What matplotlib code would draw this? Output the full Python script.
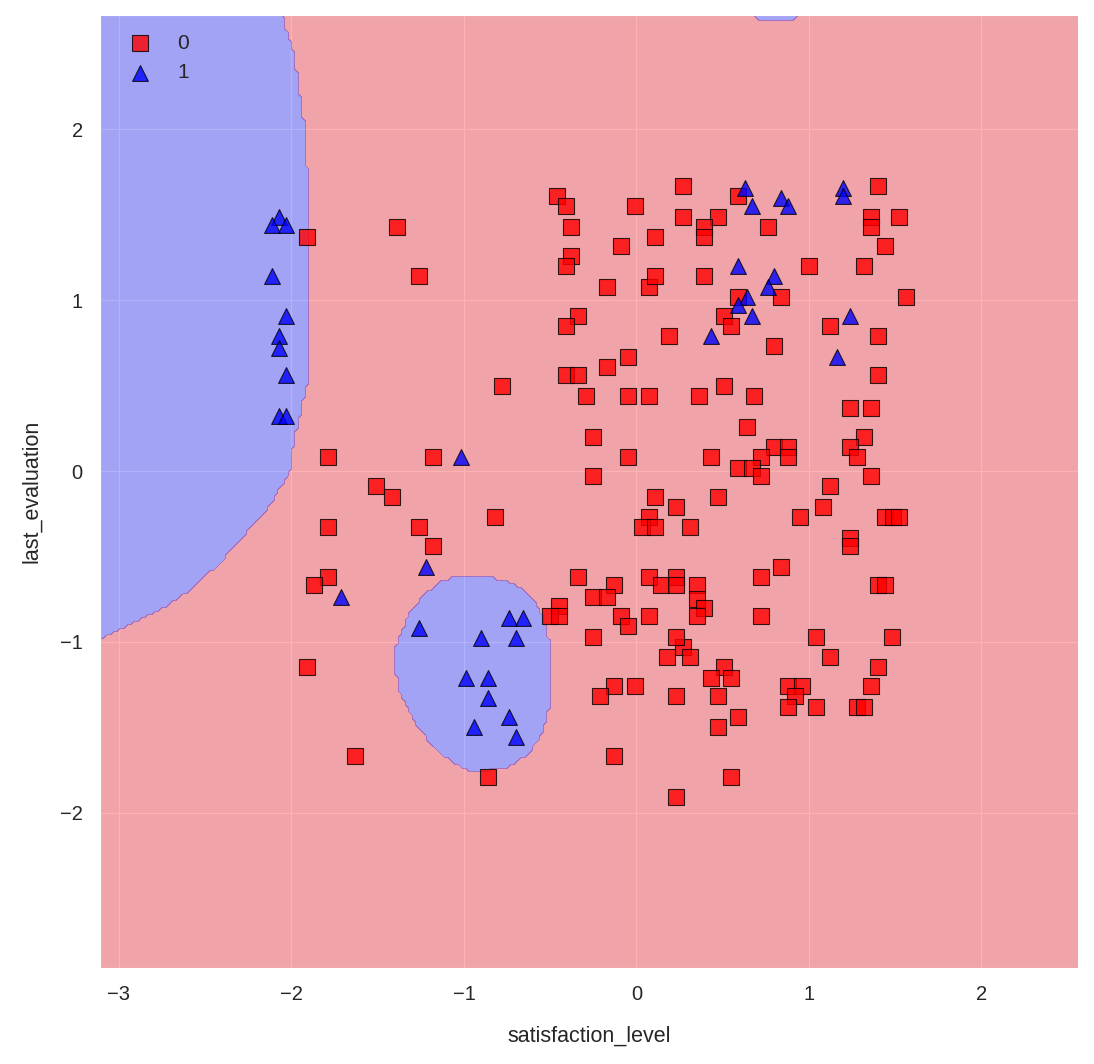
import numpy as np
import matplotlib
matplotlib.use("Agg")
import matplotlib.pyplot as plt
from matplotlib.path import Path
import seaborn as sns

# class 0 samples (standardized satisfaction_level, last_evaluation)
x0 = [-1.91, -1.39, -1.26, -1.79, -1.18, -1.51, -1.42, -1.79, -1.26, -1.18,
      -1.79, -1.87, -1.91, -1.63, -0.86, -0.46, -0.41, -0.38, -0.01, 0.27,
      0.27, 0.11, -0.09, -0.38, -0.41, -0.17, 0.07, 0.11, -0.34, -0.41,
      0.19, -0.05, -0.17, -0.41, -0.34, -0.78, -0.29, -0.05, 0.07, 0.36,
      -0.25, -0.05, -0.25, 0.11, 0.23, 0.07, 0.03, 0.11, 0.31, -0.82,
      -0.34, 0.07, 0.23, -0.13, 0.14, 0.23, 0.59, 0.47, 0.39, 0.39,
      0.76, 1.40, 1.36, 1.36, 1.52, 1.44, 1.32, 1.00, 0.39, 0.59,
      0.84, 1.56, 0.51, 0.55, 1.12, 1.40, 0.80, 1.40, 0.51, 0.68,
      1.24, 1.36, 0.64, 1.32, 1.24, 1.28, 0.43, 0.80, 0.88, 0.88,
      0.72, 0.59, 0.67, 0.72, 1.36, 1.12, 0.47, 1.08, 0.95, 1.44,
      1.49, 1.52, 1.24, 1.24, 0.84, 0.72, 0.35, 1.40, 1.44, 0.35,
      0.39, 0.35, 0.72, 1.04, 1.48, 0.27, 0.31, 1.12, 1.40, 0.51,
      0.43, 0.55, 0.88, 0.96, 0.92, 0.88, 1.04, 1.36, 1.28, 1.32,
      0.47, 0.59, 0.47, 0.55, -0.45, -0.50, -0.45, -0.25, -0.17, -0.09,
      -0.05, 0.07, -0.25, 0.23, 0.18, -0.13, -0.21, -0.01, 0.23, -0.13,
      0.23]
y0 = [1.37, 1.43, 1.14, 0.08, 0.08, -0.09, -0.15, -0.33, -0.33, -0.44,
      -0.62, -0.67, -1.15, -1.67, -1.79, 1.61, 1.55, 1.43, 1.55, 1.67,
      1.49, 1.37, 1.32, 1.26, 1.20, 1.08, 1.08, 1.14, 0.91, 0.85,
      0.79, 0.67, 0.61, 0.56, 0.56, 0.50, 0.44, 0.44, 0.44, 0.44,
      0.20, 0.08, -0.03, -0.15, -0.21, -0.27, -0.33, -0.33, -0.33, -0.27,
      -0.62, -0.62, -0.62, -0.67, -0.67, -0.67, 1.61, 1.49, 1.43, 1.37,
      1.43, 1.67, 1.49, 1.43, 1.49, 1.32, 1.20, 1.20, 1.14, 1.02,
      1.02, 1.02, 0.91, 0.85, 0.85, 0.79, 0.73, 0.56, 0.50, 0.44,
      0.37, 0.37, 0.26, 0.20, 0.14, 0.08, 0.08, 0.14, 0.14, 0.08,
      0.08, 0.02, 0.02, -0.03, -0.03, -0.09, -0.15, -0.21, -0.27, -0.27,
      -0.27, -0.27, -0.39, -0.44, -0.56, -0.62, -0.67, -0.67, -0.67, -0.75,
      -0.80, -0.85, -0.85, -0.97, -0.97, -1.03, -1.09, -1.09, -1.15, -1.15,
      -1.21, -1.21, -1.26, -1.26, -1.32, -1.38, -1.38, -1.26, -1.38, -1.38,
      -1.32, -1.44, -1.50, -1.79, -0.79, -0.85, -0.85, -0.74, -0.74, -0.85,
      -0.91, -0.85, -0.97, -0.97, -1.09, -1.26, -1.32, -1.26, -1.32, -1.67,
      -1.91]

# class 1 samples
x1 = [-2.07, -2.11, -2.03, -2.11, -2.03, -2.07, -2.07, -2.03, -2.07, -2.03,
      -1.71, -1.22, -1.02, -1.26, -0.90, -0.74, -0.66, -0.70, -0.99, -0.86,
      -0.86, -0.74, -0.94, -0.70, 0.63, 0.67, 0.84, 0.88, 1.20, 1.20,
      0.59, 0.80, 0.76, 0.64, 0.59, 0.67, 0.43, 1.24, 1.16]
y1 = [1.49, 1.44, 1.44, 1.14, 0.91, 0.79, 0.72, 0.56, 0.32, 0.32,
      -0.74, -0.56, 0.08, -0.92, -0.98, -0.86, -0.86, -0.98, -1.21, -1.21,
      -1.33, -1.44, -1.50, -1.56, 1.66, 1.55, 1.60, 1.55, 1.66, 1.61,
      1.20, 1.14, 1.08, 1.02, 0.97, 0.91, 0.79, 0.91, 0.67]

# outlines of the areas the classifier assigns to class 1
left_x = [-3.3, -2.04, -2.055, -2.028, -1.992, -1.963, -1.942, -1.922, -1.917, -1.905,
          -1.905, -1.913, -1.934, -1.980, -2.009, -2.113, -2.281, -2.413, -2.587, -2.760,
          -2.933, -3.106, -3.3]
left_y = [2.9, 2.9, 2.667, 2.579, 2.462, 2.304, 2.152, 2.012, 1.819, 1.743,
          0.550, 0.474, 0.398, 0.199, 0.006, -0.187, -0.386, -0.538, -0.696, -0.813,
          -0.901, -0.988, -1.08]
blob_x = [-0.970, -0.855, -0.779, -0.643, -0.556, -0.520, -0.491, -0.491, -0.520, -0.566,
          -0.643, -0.739, -0.855, -0.970, -1.047, -1.162, -1.259, -1.335, -1.374, -1.397,
          -1.397, -1.374, -1.316, -1.220, -1.114]
blob_y = [-0.614, -0.620, -0.637, -0.696, -0.813, -0.930, -1.088, -1.281, -1.456, -1.573,
          -1.673, -1.731, -1.749, -1.760, -1.719, -1.632, -1.515, -1.380, -1.281, -1.164,
          -1.029, -0.971, -0.830, -0.713, -0.637]
top_x = [0.66, 0.676, 0.716, 0.906, 0.947, 0.96]
top_y = [2.9, 2.667, 2.637, 2.637, 2.667, 2.9]

sns.set_style("darkgrid", {"grid.linewidth": 1.5})
plt.rcParams['font.family'] = ['Liberation Sans', 'DejaVu Sans']

allx = np.array(x0 + x1)
ally = np.array(y0 + y1)
x_min, x_max = allx.min() - 1, allx.max() + 1
y_min, y_max = ally.min() - 1, ally.max() + 1

res = 0.02
xx, yy = np.meshgrid(np.arange(x_min, x_max + res, res), np.arange(y_min, y_max + res, res))
pts = np.c_[xx.ravel(), yy.ravel()]
Z = np.zeros(len(pts))
for px, py in [(left_x, left_y), (blob_x, blob_y), (top_x, top_y)]:
    Z[Path(np.c_[px, py]).contains_points(pts)] = 1
Z = Z.reshape(xx.shape)

fig = plt.figure(figsize=(10.94, 10.64), dpi=100)
ax = fig.add_axes([0.0914, 0.0902, 0.894, 0.8957])
ax.contourf(xx, yy, Z, levels=[-0.5, 0.5, 1.5], colors=['red', 'blue'], alpha=0.3)

ax.scatter(x0, y0, s=130, c='red', marker='s', alpha=0.8, edgecolor='black', linewidth=0.8, label='0')
ax.scatter(x1, y1, s=130, c='blue', marker='^', alpha=0.8, edgecolor='black', linewidth=0.8, label='1')

ax.set_xlim(x_min, x_max)
ax.set_ylim(y_min, y_max)
ax.set_xticks([-3, -2, -1, 0, 1, 2])
ax.set_yticks([-2, -1, 0, 1, 2])
ax.tick_params(labelsize=14.5, colors='.15', pad=9)
ax.set_xlabel('satisfaction_level', fontsize=15.5, labelpad=15)
ax.set_ylabel('last_evaluation', fontsize=15.5, labelpad=13)
ax.legend(loc='upper left', fontsize=15, frameon=False)

fig.savefig('out.png', dpi=100)
